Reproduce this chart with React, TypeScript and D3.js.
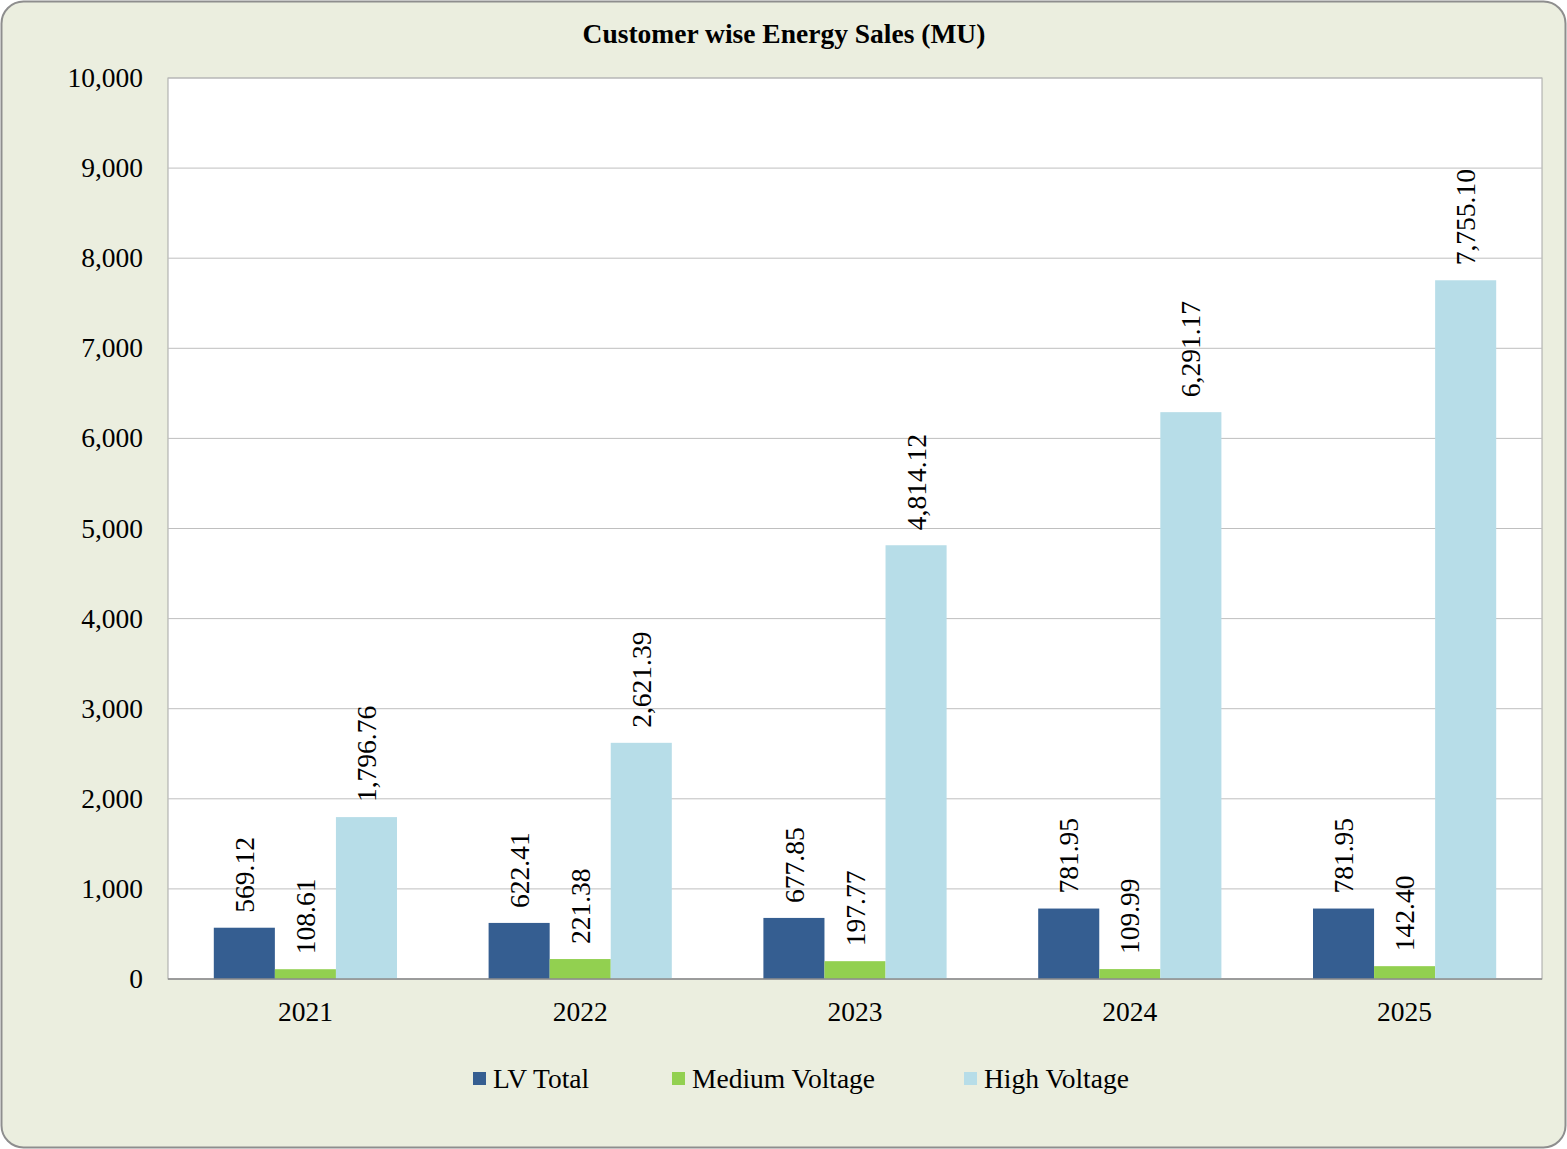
import { useEffect, useRef } from "react";
import * as d3 from "d3";

const years = ["2021", "2022", "2023", "2024", "2025"];
const seriesNames = ["LV Total", "Medium Voltage", "High Voltage"];
const lvTotal = [569.12, 622.41, 677.85, 781.95, 781.95];
const mediumVoltage = [108.61, 221.38, 197.77, 109.99, 142.4];
const highVoltage = [1796.76, 2621.39, 4814.12, 6291.17, 7755.1];
const seriesColors = ["#355E91", "#92D050", "#B7DDE8"];
const yTicks = [0, 1000, 2000, 3000, 4000, 5000, 6000, 7000, 8000, 9000, 10000];

export default function App() {
  const svgRef = useRef<SVGSVGElement>(null);

  useEffect(() => {
    if (!svgRef.current) return;
    const svg = d3.select(svgRef.current);
    const width = 1567;
    const height = 1149;
    const plot = { left: 168, right: 1542, top: 78, bottom: 979 };
    const font = "'Liberation Serif', 'Times New Roman', serif";
    const fontSize = "27.5px";

    svg.selectAll("*").remove();
    svg.attr("width", width).attr("height", height);

    // Outer frame
    svg
      .append("rect")
      .attr("x", 1.5)
      .attr("y", 1.5)
      .attr("width", width - 3)
      .attr("height", height - 3)
      .attr("rx", 22)
      .attr("fill", "#EBEEDF")
      .attr("stroke", "#8E8E8E")
      .attr("stroke-width", 2);

    // Plot area
    svg
      .append("rect")
      .attr("x", plot.left)
      .attr("y", plot.top)
      .attr("width", plot.right - plot.left)
      .attr("height", plot.bottom - plot.top)
      .attr("fill", "#FFFFFF")
      .attr("stroke", "#A6A6A6")
      .attr("stroke-width", 1);

    const x0 = d3.scaleBand().domain(years).range([plot.left, plot.right]);
    const x1 = d3
      .scaleBand()
      .domain(seriesNames)
      .range([0, x0.bandwidth()])
      .paddingInner(0)
      .paddingOuter(0.75);
    const y = d3.scaleLinear().domain([0, 10000]).range([plot.bottom, plot.top]);

    // Grid lines
    svg
      .append("g")
      .selectAll("line")
      .data(yTicks)
      .enter()
      .append("line")
      .attr("x1", plot.left)
      .attr("x2", plot.right)
      .attr("y1", (d) => y(d))
      .attr("y2", (d) => y(d))
      .attr("stroke", "#BFBFBF")
      .attr("stroke-width", 1);

    // Y tick labels
    svg
      .append("g")
      .selectAll("text")
      .data(yTicks)
      .enter()
      .append("text")
      .attr("x", 143)
      .attr("y", (d) => y(d))
      .attr("dy", "0.33em")
      .attr("text-anchor", "end")
      .attr("font-family", font)
      .attr("font-size", fontSize)
      .attr("fill", "#000")
      .text((d) => d3.format(",")(d));

    const allSeries = [lvTotal, mediumVoltage, highVoltage];
    const rows = years.map((yr, i) => ({
      year: yr,
      values: seriesNames.map((s, j) => ({ name: s, value: allSeries[j][i], color: seriesColors[j] })),
    }));

    const groups = svg
      .append("g")
      .selectAll("g")
      .data(rows)
      .enter()
      .append("g")
      .attr("transform", (d) => `translate(${x0(d.year)},0)`);

    groups
      .selectAll("rect")
      .data((d) => d.values)
      .enter()
      .append("rect")
      .attr("x", (d) => x1(d.name)!)
      .attr("y", (d) => y(d.value))
      .attr("width", x1.bandwidth())
      .attr("height", (d) => plot.bottom - y(d.value))
      .attr("fill", (d) => d.color);

    // Value labels (rotated)
    groups
      .selectAll("text")
      .data((d) => d.values)
      .enter()
      .append("text")
      .attr(
        "transform",
        (d) => `translate(${x1(d.name)! + x1.bandwidth() / 2},${y(d.value) - 15}) rotate(-90)`
      )
      .attr("dy", "0.35em")
      .attr("text-anchor", "start")
      .attr("font-family", font)
      .attr("font-size", fontSize)
      .attr("fill", "#000")
      .text((d) => d3.format(",.2f")(d.value));

    // X axis line
    svg
      .append("line")
      .attr("x1", plot.left)
      .attr("x2", plot.right)
      .attr("y1", plot.bottom)
      .attr("y2", plot.bottom)
      .attr("stroke", "#8C8C8C")
      .attr("stroke-width", 1.5);

    // Year labels
    svg
      .append("g")
      .selectAll("text")
      .data(years)
      .enter()
      .append("text")
      .attr("x", (d) => x0(d)! + x0.bandwidth() / 2)
      .attr("y", 1021)
      .attr("text-anchor", "middle")
      .attr("font-family", font)
      .attr("font-size", fontSize)
      .attr("fill", "#000")
      .text((d) => d);

    // Title
    svg
      .append("text")
      .attr("x", 784)
      .attr("y", 43)
      .attr("text-anchor", "middle")
      .attr("font-family", font)
      .attr("font-size", "27.5px")
      .attr("font-weight", "bold")
      .attr("fill", "#000")
      .text("Customer wise Energy Sales (MU)");

    // Legend
    const legendX = [473, 672, 964];
    const legend = svg
      .append("g")
      .selectAll("g")
      .data(seriesNames)
      .enter()
      .append("g")
      .attr("transform", (_, i) => `translate(${legendX[i]},1079)`);

    legend
      .append("rect")
      .attr("x", 0)
      .attr("y", -7)
      .attr("width", 13)
      .attr("height", 13)
      .attr("fill", (_, i) => seriesColors[i]);

    legend
      .append("text")
      .attr("x", 20)
      .attr("y", 0)
      .attr("dy", "0.33em")
      .attr("font-family", font)
      .attr("font-size", fontSize)
      .attr("fill", "#000")
      .text((d) => d);
  }, []);

  return (
    <svg
      ref={svgRef}
      style={{ position: "absolute", left: 0, top: 0, display: "block" }}
    ></svg>
  );
}
